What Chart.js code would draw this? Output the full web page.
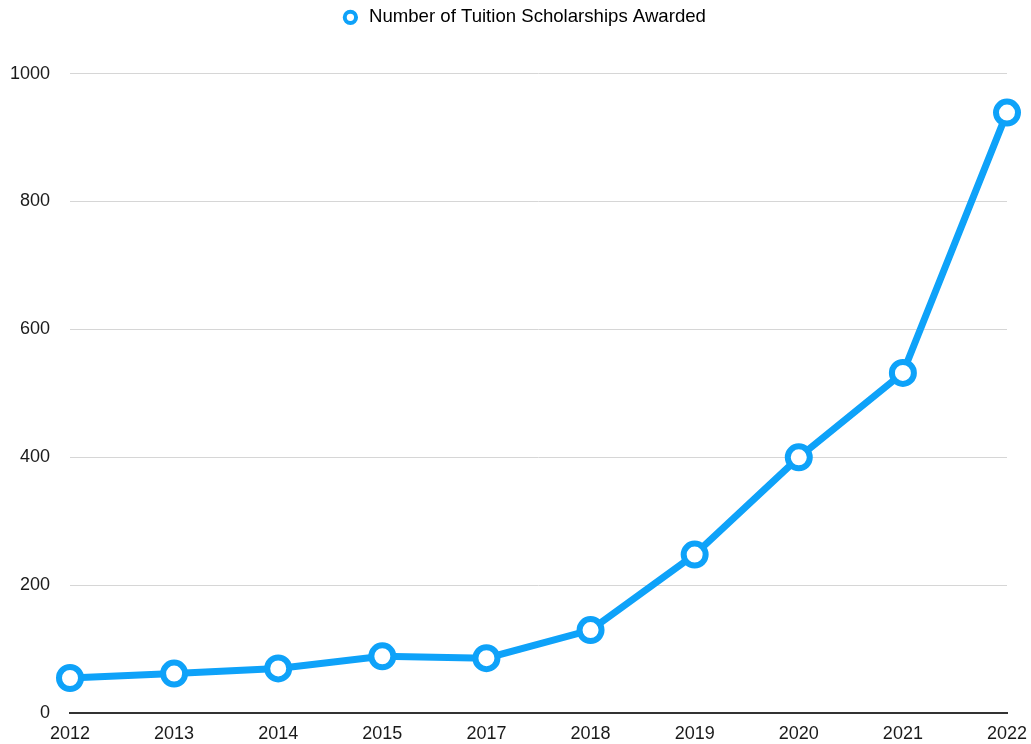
<!DOCTYPE html>
<html>
<head>
<meta charset="utf-8">
<script src="https://cdn.jsdelivr.net/npm/chart.js@4/dist/chart.umd.min.js"></script>
<style>
    html, body { margin: 0; padding: 0; background: #fff; }
    #wrap { width: 1031px; height: 744px; }
</style>
</head>
<body>
<div id="wrap"><canvas id="scholarships"></canvas></div>
<script>
const years    = ['2012', '2013', '2014', '2015', '2017', '2018', '2019', '2020', '2021', '2022'];
const awarded  = [55, 62, 70, 89, 86, 130, 248, 400, 532, 939];
const seriesName = 'Number of Tuition Scholarships Awarded';
const lineBlue = '#0ea2f9';

Chart.defaults.font.family = 'Liberation Sans, Arial, sans-serif';
Chart.defaults.font.size   = 18;
Chart.defaults.color       = '#1a1a1a';

// leave more room between the legend and the plot area, nudge legend right a bit
const legendGap = {
    id: 'legendGap',
    beforeInit (chart) {
        const fit = chart.legend.fit;
        chart.legend.fit = function () {
            fit.bind(chart.legend)();
            this.height += 37;
        };
    },
    afterLayout (chart) {
        chart.legend.left  += 15;
        chart.legend.right += 15;
    }
};

const chart = new Chart(document.getElementById('scholarships').getContext('2d'), {
    type: 'line',
    data: {
        labels: years,
        datasets: [{
            label: seriesName,
            data: awarded,
            borderColor: lineBlue,
            backgroundColor: '#ffffff',
            borderWidth: 7,
            pointRadius: 11,
            pointBorderWidth: 6,
            pointBackgroundColor: '#ffffff',
            pointBorderColor: lineBlue,
            tension: 0
        }]
    },
    plugins: [legendGap],
    options: {
        responsive: true,
        maintainAspectRatio: false,
        animation: false,
        layout: { padding: { left: 10, right: 24, top: 1, bottom: -16 } },
        plugins: {
            legend: {
                position: 'top',
                labels: {
                    usePointStyle: true,
                    pointStyle: 'circle',
                    boxWidth: 19,
                    boxHeight: 8,
                    padding: 7,
                    font: { size: 18.6 },
                    generateLabels: (c) => [{
                        text: seriesName,
                        fillStyle: '#ffffff',
                        strokeStyle: lineBlue,
                        lineWidth: 4,
                        pointStyle: 'circle',
                        datasetIndex: 0
                    }]
                }
            },
            tooltip: { enabled: false }
        },
        scales: {
            x: {
                offset: false,
                afterFit: (scale) => { scale.paddingLeft = 0; scale.paddingRight = 0; },
                grid: { display: false, drawTicks: false },
                border: { display: true, color: '#333', width: 2 },
                ticks: { padding: 10, maxRotation: 0 }
            },
            y: {
                min: 0,
                max: 1000,
                afterFit: (scale) => { scale.width = 60; },
                ticks: { stepSize: 200, padding: 20, callback: (v) => String(v) },
                grid: { color: '#d6d6d6', lineWidth: 1, drawTicks: false },
                border: { display: false }
            }
        }
    }
});
</script>
</body>
</html>
